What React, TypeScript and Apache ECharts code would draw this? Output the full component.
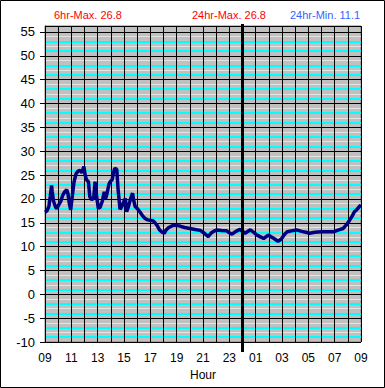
import React, { useEffect, useRef } from "react";
import * as echarts from "echarts";

// Hours since 09:00 and temperature readings
const hours: number[] = [
  0.0, 0.15, 0.3, 0.4, 0.5, 0.55, 0.65, 0.8, 0.9, 1.05, 1.2, 1.35, 1.5, 1.65, 1.75, 1.85, 1.95,
  2.05, 2.2, 2.35, 2.5, 2.65, 2.8, 2.95, 3.05, 3.15, 3.3, 3.4, 3.55, 3.7, 3.8, 3.9, 4.05, 4.2,
  4.35, 4.5, 4.6, 4.7, 4.85, 4.95, 5.1, 5.2, 5.3, 5.45, 5.55, 5.7, 5.85, 6.0, 6.1, 6.2, 6.35,
  6.5, 6.65, 6.75, 6.85, 7.0, 7.2, 7.4, 7.6, 7.8, 8.0, 8.2, 8.35, 8.5, 8.7, 8.9, 9.05, 9.2,
  9.4, 9.7, 10.0, 10.25, 10.6, 11.0, 11.4, 11.8, 12.1, 12.4, 12.6, 12.8, 13.05, 13.4, 13.8,
  14.0, 14.2, 14.5, 14.8, 15.0, 15.2, 15.4, 15.6, 15.85, 16.1, 16.4, 16.6, 16.8, 17.0, 17.2,
  17.45, 17.7, 17.95, 18.2, 18.4, 18.7, 19.1, 19.5, 19.8, 20.1, 20.5, 21.0, 21.5, 21.9, 22.3,
  22.65, 22.9, 23.15, 23.35, 23.5, 23.7, 23.9, 24.0,
];
const temps: number[] = [
  17.2, 17.5, 18.5, 20.5, 22.8, 21.5, 19.5, 18.3, 18.0, 18.8, 19.5, 20.8, 21.5, 21.9, 21.0, 19.0, 17.7,
  20.0, 23.5, 25.2, 25.8, 26.0, 25.5, 26.8, 25.0, 24.0, 23.6, 20.5, 19.8, 20.2, 23.6, 21.0, 18.0, 18.3,
  19.5, 21.5, 20.0, 21.0, 23.0, 23.6, 24.0, 25.5, 26.4, 26.2, 22.0, 17.8, 18.5, 19.5, 20.1, 17.3, 18.5,
  20.0, 21.2, 19.5, 18.4, 18.0, 17.3, 16.5, 15.9, 15.6, 15.5, 15.4, 15.0, 14.5, 13.5, 13.0, 12.8, 13.5,
  14.0, 14.4, 14.4, 14.3, 14.0, 13.8, 13.6, 13.4, 12.8, 12.1, 12.8, 13.2, 13.5, 13.4, 13.3,
  12.9, 12.6, 13.2, 13.6, 13.2, 12.8, 13.2, 13.5, 13.0, 12.4, 12.0, 11.7, 12.1, 12.4, 12.0,
  11.6, 11.1, 11.6, 12.6, 13.1, 13.3, 13.5, 13.2, 13.0, 12.8, 13.0, 13.1, 13.1, 13.1, 13.5,
  13.8, 14.6, 15.6, 16.5, 17.3, 17.8, 18.5, 18.7,
];

const startHour = 9;
const midnightOffset = 15;
const yMin = -10;
const yMax = 56.25;
const yInterval = 5;

const titleTexts: string[] = ["6hr-Max. 26.8", "24hr-Max. 26.8", "24hr-Min. 11.1"];
const xAxisName = "Hour";

const FONT = '"Liberation Sans", Arial, sans-serif';

export default function App() {
  const ref = useRef<HTMLDivElement>(null);

  useEffect(() => {
    document.body.style.margin = "0";
    if (!ref.current) return;
    const chart = echarts.init(ref.current, undefined, { renderer: "svg" });

    const minorLines: any[] = [];
    for (let v = Math.ceil(yMin); v < Math.floor(yMax); v++) {
      const r = ((v % 5) + 5) % 5;
      if (r === 0) continue;
      const cyan = r === 1 || r === 3;
      minorLines.push({
        yAxis: v,
        lineStyle: { color: cyan ? "#00ffff" : "#e4e4e4", width: cyan ? 2 : 1, type: "solid" },
      });
    }

    chart.setOption({
      animation: false,
      backgroundColor: "#ffffff",
      grid: {
        left: 45,
        right: 24,
        top: 26,
        bottom: 46,
        show: true,
        backgroundColor: "#c0c0c0",
        borderColor: "#808080",
        borderWidth: 1,
      },
      xAxis: {
        type: "value",
        min: 0,
        max: 24,
        interval: 1,
        z: 3,
        name: xAxisName,
        nameLocation: "middle",
        nameGap: 26,
        nameTextStyle: { fontFamily: FONT, fontSize: 12, color: "#000" },
        axisLine: { show: true, lineStyle: { color: "#000", width: 1 } },
        axisTick: { show: false },
        axisLabel: {
          margin: 10,
          fontFamily: FONT,
          fontSize: 12,
          color: "#000",
          formatter: (v: number) =>
            v % 2 === 0 ? String((startHour + v) % 24).padStart(2, "0") : "",
        },
        splitLine: { show: true, lineStyle: { color: "#000", width: 1 } },
      },
      yAxis: {
        type: "value",
        min: yMin,
        max: yMax,
        interval: yInterval,
        z: 0,
        axisLine: { show: true, lineStyle: { color: "#000", width: 1 } },
        axisTick: { show: true, length: 5, lineStyle: { color: "#000" } },
        axisLabel: {
          margin: 10,
          fontFamily: FONT,
          fontSize: 13,
          color: "#000",
          showMaxLabel: false,
          formatter: (v: number) => (v % yInterval === 0 ? String(v) : ""),
        },
        splitLine: { show: true, lineStyle: { color: "#000", width: 1 } },
      },
      series: [
        {
          type: "line",
          z: 1,
          data: [],
          silent: true,
          markLine: {
            z: 1,
            silent: true,
            symbol: ["none", "none"],
            label: { show: false },
            data: minorLines,
          },
        },
        {
          type: "line",
          z: 5,
          data: hours.map((h, i) => [h, temps[i]]),
          showSymbol: false,
          symbol: "none",
          lineStyle: { color: "#000080", width: 3.5 },
        },
      ],
    });

    const px = chart.convertToPixel({ xAxisIndex: 0 }, midnightOffset) as number;
    const topY = chart.convertToPixel({ yAxisIndex: 0 }, yMax) as number;
    const botY = chart.convertToPixel({ yAxisIndex: 0 }, yMin) as number;

    chart.setOption({
      graphic: [
        {
          type: "rect",
          shape: { x: 0.5, y: 0.5, width: 384, height: 387 },
          style: { fill: "none", stroke: "#000", lineWidth: 1 },
          silent: true,
        },
        {
          type: "line",
          shape: { x1: px, y1: topY - 2, x2: px, y2: botY + 10 },
          style: { stroke: "#000", lineWidth: 3 },
          z: 10,
          silent: true,
        },
        {
          type: "text",
          left: 54,
          top: 9,
          style: { text: titleTexts[0], fill: "#ff0000", font: `11px ${FONT}` },
        },
        {
          type: "text",
          left: 192,
          top: 9,
          style: { text: titleTexts[1], fill: "#ff0000", font: `11px ${FONT}` },
        },
        {
          type: "text",
          left: 290,
          top: 9,
          style: { text: titleTexts[2], fill: "#3366ff", font: `11px ${FONT}` },
        },
      ],
    });

    return () => chart.dispose();
  }, []);

  return <div ref={ref} style={{ width: 385, height: 388 }} />;
}
